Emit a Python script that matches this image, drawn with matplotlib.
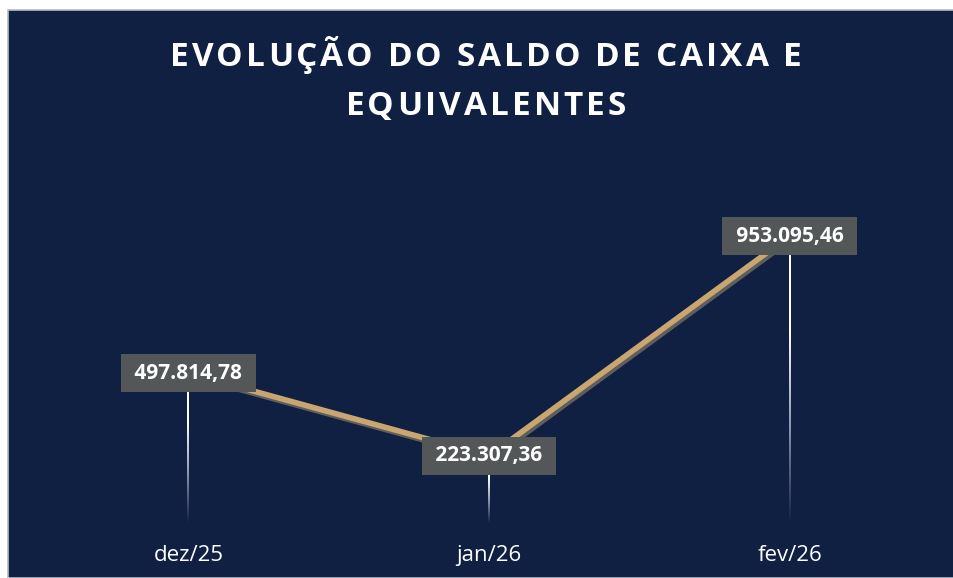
import numpy as np
import matplotlib
matplotlib.use("Agg")
import matplotlib.pyplot as plt
import matplotlib.patheffects as pe
from matplotlib.patches import Rectangle
from matplotlib.colors import LinearSegmentedColormap
from matplotlib import font_manager, ft2font

# data
categories = ["dez/25", "jan/26", "fev/26"]
values = [497814.78, 223307.36, 953095.46]
labels = ["497.814,78", "223.307,36", "953.095,46"]
title_lines = ["EVOLUÇÃO DO SALDO DE CAIXA E", "EQUIVALENTES"]

navy = "#0F2042"
gold = "#C9A66F"
box_gray = "#545758"

W, H, DPI = 954, 578, 100
fig = plt.figure(figsize=(W / DPI, H / DPI), dpi=DPI)
fig.patch.set_facecolor("white")
fig.patches.append(Rectangle((8 / W, 0), 1 - 8 / W, 1 - 10 / H, transform=fig.transFigure,
                             facecolor=navy, edgecolor="#B8BCC4", linewidth=1.2, zorder=-1))

ax = fig.add_axes([38 / W, 55 / H, 902 / W, 301 / H])
ax.set_zorder(1)
ax.set_facecolor("none")
for s in ax.spines.values():
    s.set_visible(False)
x = np.arange(len(categories))
ax.set_yticks([])
ax.set_xticks(x)
ax.set_xticklabels(categories, color="white", fontsize=16, family="Open Sans")
ax.tick_params(axis="x", length=0, pad=16)

# drop lines with fade to background
fade = LinearSegmentedColormap.from_list("fade", [navy, "#8C97B0", "white", "white"])
grad = np.linspace(0, 1, 256).reshape(-1, 1)
half_w = 1.0 / 300.7
for xi, v in zip(x, values):
    ax.imshow(grad, cmap=fade, origin="lower", aspect="auto", interpolation="bilinear",
              extent=[xi - half_w, xi + half_w, 0, v], zorder=2)
ax.set_xlim(-0.5, len(categories) - 0.5)
ax.set_ylim(0, 1000000)

ax.plot(x, values, color=gold, linewidth=4, solid_capstyle="butt", zorder=3,
        path_effects=[pe.SimpleLineShadow(offset=(1.5, -2), shadow_color="#5E5E5E", alpha=1.0),
                      pe.Normal()])

for xi, v, lab in zip(x, values, labels):
    ax.text(xi, v, " " + lab + " ", ha="center", va="center", color="white", fontsize=15,
            fontweight="bold", family="Open Sans", zorder=5,
            bbox=dict(boxstyle="square,pad=0.4", facecolor=box_gray, edgecolor="none"))

# letter-spaced title
fpath = font_manager.findfont(font_manager.FontProperties(family="Open Sans", weight="bold"))
ft = ft2font.FT2Font(fpath)
tsize = 24
ft.set_size(tsize, DPI)
spacing = 3.0


def spaced(line, cx, base_y):
    adv = [ft.load_char(ord(c)).linearHoriAdvance / 65536 for c in line]
    total = sum(adv) + spacing * (len(line) - 1)
    px = cx - total / 2
    for c, a in zip(line, adv):
        fig.text((px + a / 2) / W, 1 - base_y / H, c, ha="center", va="baseline",
                 color="white", fontsize=tsize, fontweight="bold", family="Open Sans")
        px += a + spacing


spaced(title_lines[0], 486, 66)
spaced(title_lines[1], 486, 115)

fig.savefig("out.png", dpi=DPI)
